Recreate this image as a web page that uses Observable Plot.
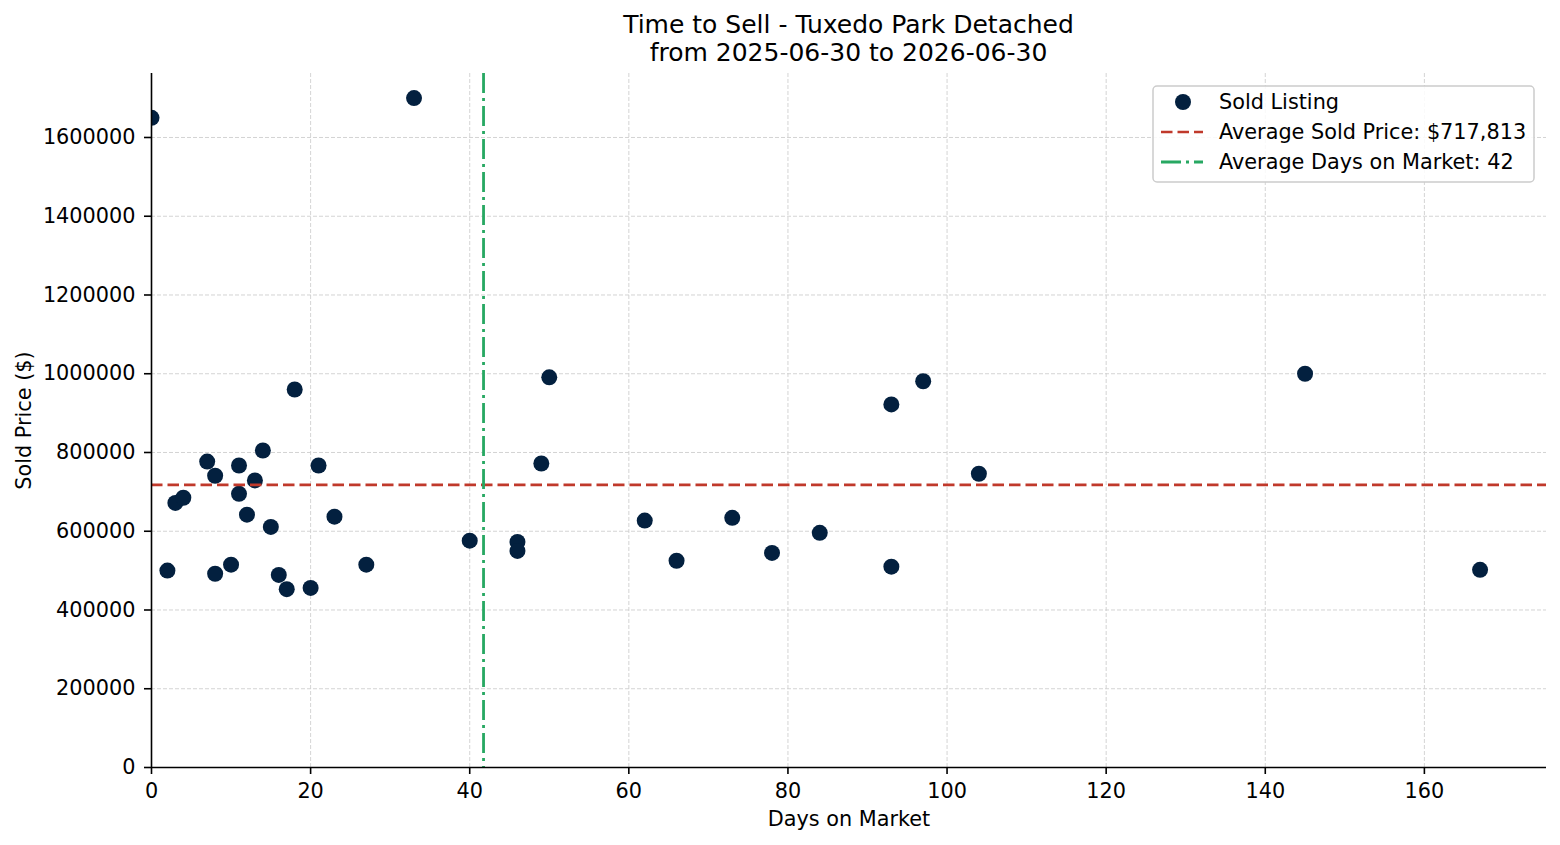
<!DOCTYPE html>
<html><head><meta charset="utf-8">
<script src="https://cdn.jsdelivr.net/npm/d3@7"></script>
<script src="https://cdn.jsdelivr.net/npm/@observablehq/plot@0.6"></script>
<style>
body{margin:0;background:#fff;font-family:"DejaVu Sans",sans-serif;}
#wrap{position:relative;width:1560px;height:845px;overflow:hidden;}
#title{height:67px;box-sizing:border-box;padding-top:11px;margin-left:151px;width:1395px;text-align:center;font-size:25px;line-height:28px;color:#000;}
#legend{position:absolute;left:1152px;top:85px;}
svg{display:block;}
</style>
</head><body>
<div id="wrap">
  <div id="title">Time to Sell - Tuxedo Park Detached<br>from 2025-06-30 to 2026-06-30</div>
  <div id="chart"></div>
  <div id="legend"></div>
</div>
<script>
// Data
const days = [0, 2, 3, 4, 7, 8, 8, 10, 11, 11, 12, 13, 14, 15, 16, 17, 18, 20, 21, 23, 27, 33, 40, 46, 46, 49, 50, 62, 66, 73, 78, 84, 93, 93, 97, 104, 145, 167];
const prices = [1650000, 500000, 672000, 685000, 777000, 741000, 492000, 515000, 767000, 695000, 642000, 729000, 805000, 611000, 489000, 453000, 960000, 456000, 767000, 637000, 515000, 1700000, 576000, 573000, 550000, 772000, 991000, 627000, 525000, 634000, 545000, 596000, 922000, 510000, 981000, 746000, 1000000, 502000];
const avgPrice = 717813;
const avgPriceLabel = "Average Sold Price: $717,813";
const avgDaysLabel = "Average Days on Market: 42";
const seriesLabel = "Sold Listing";
const xTicks = [0, 20, 40, 60, 80, 100, 120, 140, 160];
const yTicks = [0, 200000, 400000, 600000, 800000, 1000000, 1200000, 1400000, 1600000];
const xLabel = "Days on Market";
const yLabel = "Sold Price ($)";

const NAVY = "#03203f", RED = "#c0392b", GREEN = "#27a862";
const avgDays = d3.mean(days);
const data = days.map((d, i) => ({days: d, price: prices[i]}));
const FS = 20.8;

const chart = Plot.plot({
  width: 1560, height: 778,
  marginTop: 6, marginBottom: 78, marginLeft: 151, marginRight: 14,
  style: {fontFamily: "DejaVu Sans", color: "#000", background: "#fff"},
  x: {domain: [0, 175.35]},
  y: {domain: [0, 1762500]},
  marks: [
    Plot.gridX(xTicks, {stroke: "#cfcfcf", strokeOpacity: 1, strokeWidth: 0.9, strokeDasharray: "4,2"}),
    Plot.gridY(yTicks, {stroke: "#cfcfcf", strokeOpacity: 1, strokeWidth: 0.9, strokeDasharray: "4,2"}),
    Plot.dot(data, {x: "days", y: "price", r: 8, fill: NAVY, stroke: "none", clip: true}),
    Plot.ruleY([avgPrice], {stroke: RED, strokeWidth: 2.6, strokeDasharray: "11.5,5"}),
    Plot.ruleX([avgDays], {stroke: GREEN, strokeWidth: 2.8, strokeDasharray: "20,5,3,5"}),
    Plot.axisX(xTicks, {tickSize: 7, tickPadding: 9, fontSize: FS, strokeWidth: 1.6, stroke: "#000", fill: "#000", label: null, tickFormat: d => String(d)}),
    Plot.axisY(yTicks, {tickSize: 7, tickPadding: 9, fontSize: FS, strokeWidth: 1.6, stroke: "#000", fill: "#000", label: null, tickFormat: d => String(d)}),
    Plot.ruleX([0], {stroke: "#000", strokeWidth: 1.6}),
    Plot.ruleY([0], {stroke: "#000", strokeWidth: 1.6}),
    Plot.text([xLabel], {frameAnchor: "bottom", textAnchor: "middle", dy: 52, lineAnchor: "middle", fontSize: FS, fill: "#000"}),
    Plot.text([yLabel], {frameAnchor: "left", textAnchor: "middle", dx: -127, rotate: -90, lineAnchor: "middle", fontSize: FS, fill: "#000"})
  ]
});
document.getElementById("chart").appendChild(chart);

// Legend
const L = d3.select("#legend").append("svg").attr("width", 384).attr("height", 99);
L.append("rect").attr("x", 1).attr("y", 1).attr("width", 381).attr("height", 96).attr("rx", 4)
  .attr("fill", "rgba(255,255,255,0.85)").attr("stroke", "#cccccc").attr("stroke-width", 1.5);
const rows = [17, 47, 77];
L.append("circle").attr("cx", 31).attr("cy", rows[0]).attr("r", 8).attr("fill", NAVY);
L.append("line").attr("x1", 9).attr("x2", 51).attr("y1", rows[1]).attr("y2", rows[1])
  .attr("stroke", RED).attr("stroke-width", 2.6).attr("stroke-dasharray", "11.5,5");
L.append("line").attr("x1", 9).attr("x2", 51).attr("y1", rows[2]).attr("y2", rows[2])
  .attr("stroke", GREEN).attr("stroke-width", 2.8).attr("stroke-dasharray", "20,5,3,5");
[seriesLabel, avgPriceLabel, avgDaysLabel].forEach((t, i) => {
  L.append("text").attr("x", 67).attr("y", rows[i]).attr("dy", "0.35em")
    .attr("font-family", "DejaVu Sans").attr("font-size", FS).attr("fill", "#000").text(t);
});
</script>
</body></html>
